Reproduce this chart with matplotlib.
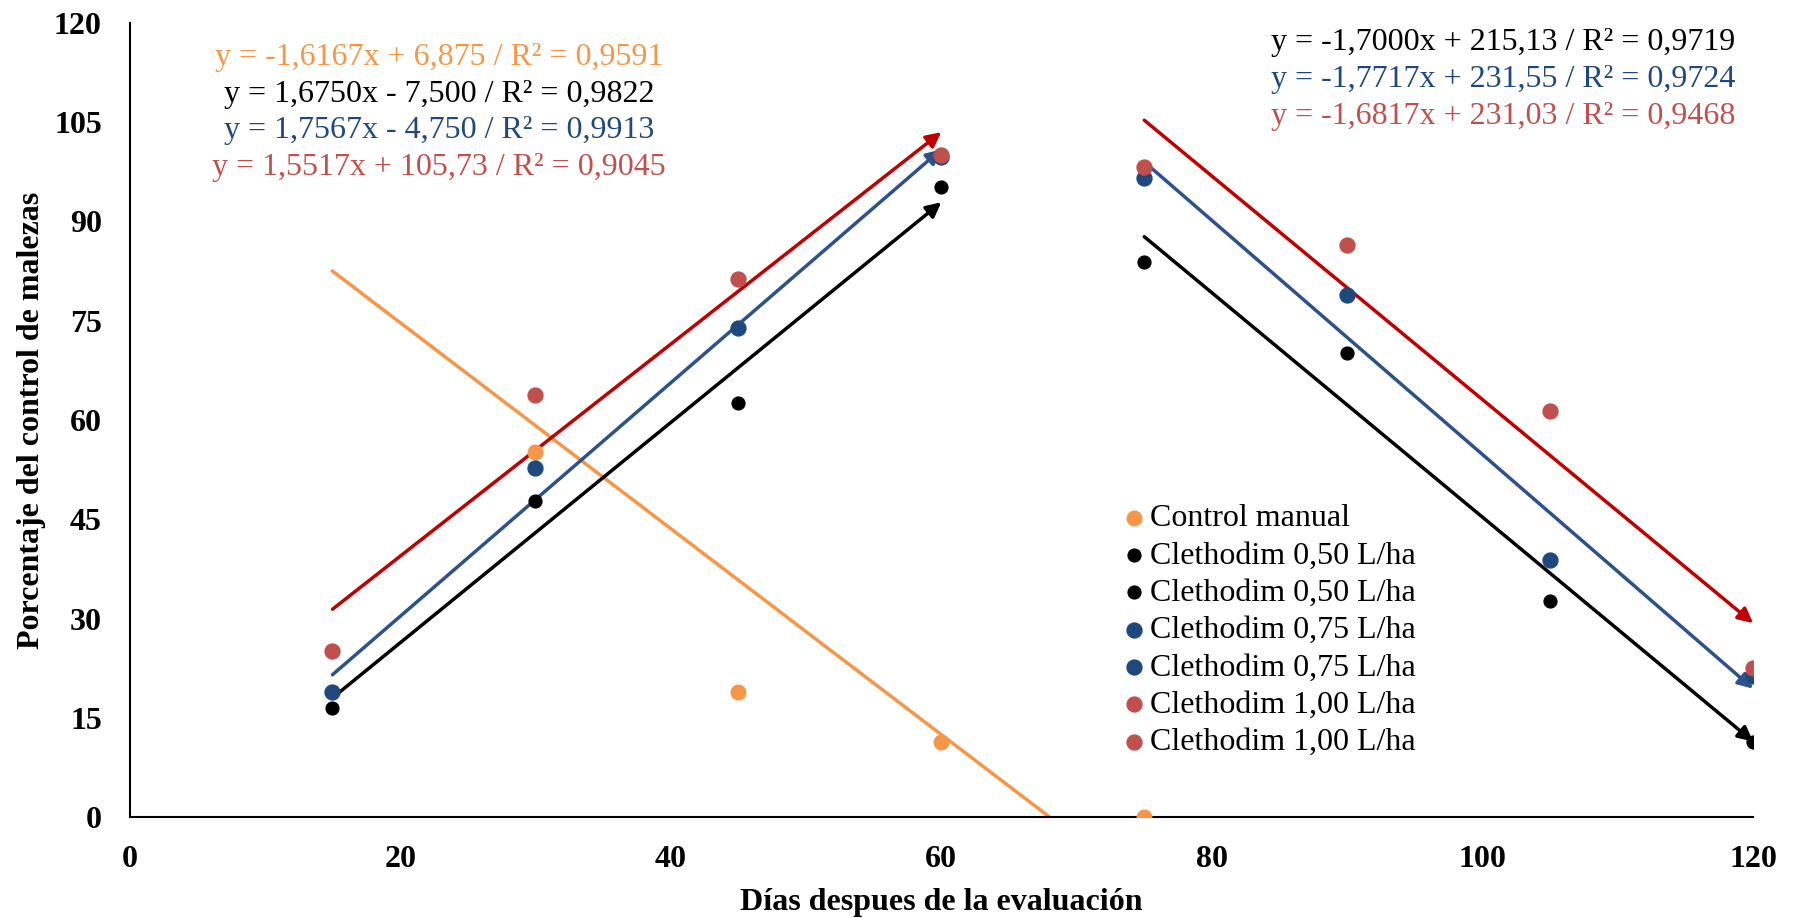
import numpy as np
import matplotlib.pyplot as plt

plt.rcParams['font.family'] = ['Liberation Serif', 'DejaVu Serif']

dias = [15, 30, 45, 60, 75, 90, 105, 120]
control_x = [30, 45, 60, 75]
control_y = [55.1, 18.9, 11.4, 0.0]
cl050 = [16.5, 47.7, 62.6, 95.2, 83.9, 70.1, 32.6, 11.3]
cl075 = [18.9, 52.7, 73.9, 99.7, 96.6, 78.9, 38.8, 21.3]
cl100 = [25.1, 63.8, 81.3, 100.1, 98.3, 86.4, 61.4, 22.5]

# trend line end points: (x0, y0, x1, y1)
trend_control = (15, 82.5, 68.0, 0.0)
trend_left = {"050": (15, 18.0, 60, 92.9), "075": (15, 21.5, 60, 100.9), "100": (15, 31.4, 60, 103.5)}
trend_right = {"050": (75, 87.7, 120, 11.4), "075": (75, 99.0, 120, 19.4), "100": (75, 105.3, 120, 29.3)}

eq_left = ["y = -1,6167x + 6,875 / R² = 0,9591", "y = 1,6750x - 7,500 / R² = 0,9822",
           "y = 1,7567x - 4,750 / R² = 0,9913", "y = 1,5517x + 105,73 / R² = 0,9045"]
eq_right = ["y = -1,7000x + 215,13 / R² = 0,9719", "y = -1,7717x + 231,55 / R² = 0,9724",
            "y = -1,6817x + 231,03 / R² = 0,9468"]

orange = '#F79646'
pt_color = {"050": 'black', "075": '#1F497D', "100": '#C0504D'}
line_color = {"050": 'black', "075": '#2C5289', "100": '#C00000'}

fig = plt.figure(figsize=(17.99, 9.18), dpi=100)
ax = fig.add_axes([0.072, 0.110, 0.9025, 0.865])

# trend lines
x0, y0, x1, y1 = trend_control
ax.plot([x0, x1], [y0, y1], color=orange, lw=2.5, zorder=2)
for key in ["050", "075", "100"]:
    for tr in (trend_left[key], trend_right[key]):
        x0, y0, x1, y1 = tr
        ax.annotate("", xy=(x1, y1), xytext=(x0, y0),
                    arrowprops=dict(arrowstyle='-|>', color=line_color[key], lw=2.5,
                                    mutation_scale=22, shrinkA=0, shrinkB=0), zorder=2)

# points
ax.scatter(control_x, control_y, s=110, color=orange, zorder=3, label="Control manual")
ax.scatter(dias, cl050, s=85, color=pt_color["050"], zorder=3, label="Clethodim 0,50 L/ha")
ax.scatter([], [], s=85, color=pt_color["050"], label="Clethodim 0,50 L/ha")
ax.scatter(dias, cl075, s=115, color=pt_color["075"], zorder=3, label="Clethodim 0,75 L/ha")
ax.scatter([], [], s=115, color=pt_color["075"], label="Clethodim 0,75 L/ha")
ax.scatter(dias, cl100, s=115, color=pt_color["100"], zorder=3, label="Clethodim 1,00 L/ha")
ax.scatter([], [], s=115, color=pt_color["100"], label="Clethodim 1,00 L/ha")

ax.legend(loc='center left', bbox_to_anchor=(0.596, 0.235), frameon=False, fontsize=23,
          handlelength=0.9, handletextpad=0.05, labelspacing=0.25, borderpad=0.2)

# equations
left_cols = [orange, 'black', '#1F497D', '#C0504D']
for i, (txt, c) in enumerate(zip(eq_left, left_cols)):
    ax.text(22.9, 114.8 - i * 5.55, txt, color=c, fontsize=23, ha='center', va='center')
right_cols = ['black', '#1F497D', '#C0504D']
for i, (txt, c) in enumerate(zip(eq_right, right_cols)):
    ax.text(101.5, 117.0 - i * 5.55, txt, color=c, fontsize=23, ha='center', va='center')

ax.set_xlim(0, 120)
ax.set_ylim(0, 120)
ax.set_xticks(np.arange(0, 121, 20))
ax.set_yticks(np.arange(0, 121, 15))
ax.tick_params(axis='y', length=0, labelsize=23, pad=20)
ax.tick_params(axis='x', length=0, labelsize=23, pad=20)
for lab in ax.get_xticklabels() + ax.get_yticklabels():
    lab.set_fontweight('bold')
ax.spines['top'].set_visible(False)
ax.spines['right'].set_visible(False)
ax.spines['left'].set_linewidth(1.5)
ax.spines['bottom'].set_linewidth(1.5)
ax.set_xlabel("Días despues de la evaluación", fontsize=23, fontweight='bold', labelpad=10)
ax.set_ylabel("Porcentaje del control de malezas", fontsize=23, fontweight='bold', labelpad=6)

plt.savefig('out.png', dpi=100)
